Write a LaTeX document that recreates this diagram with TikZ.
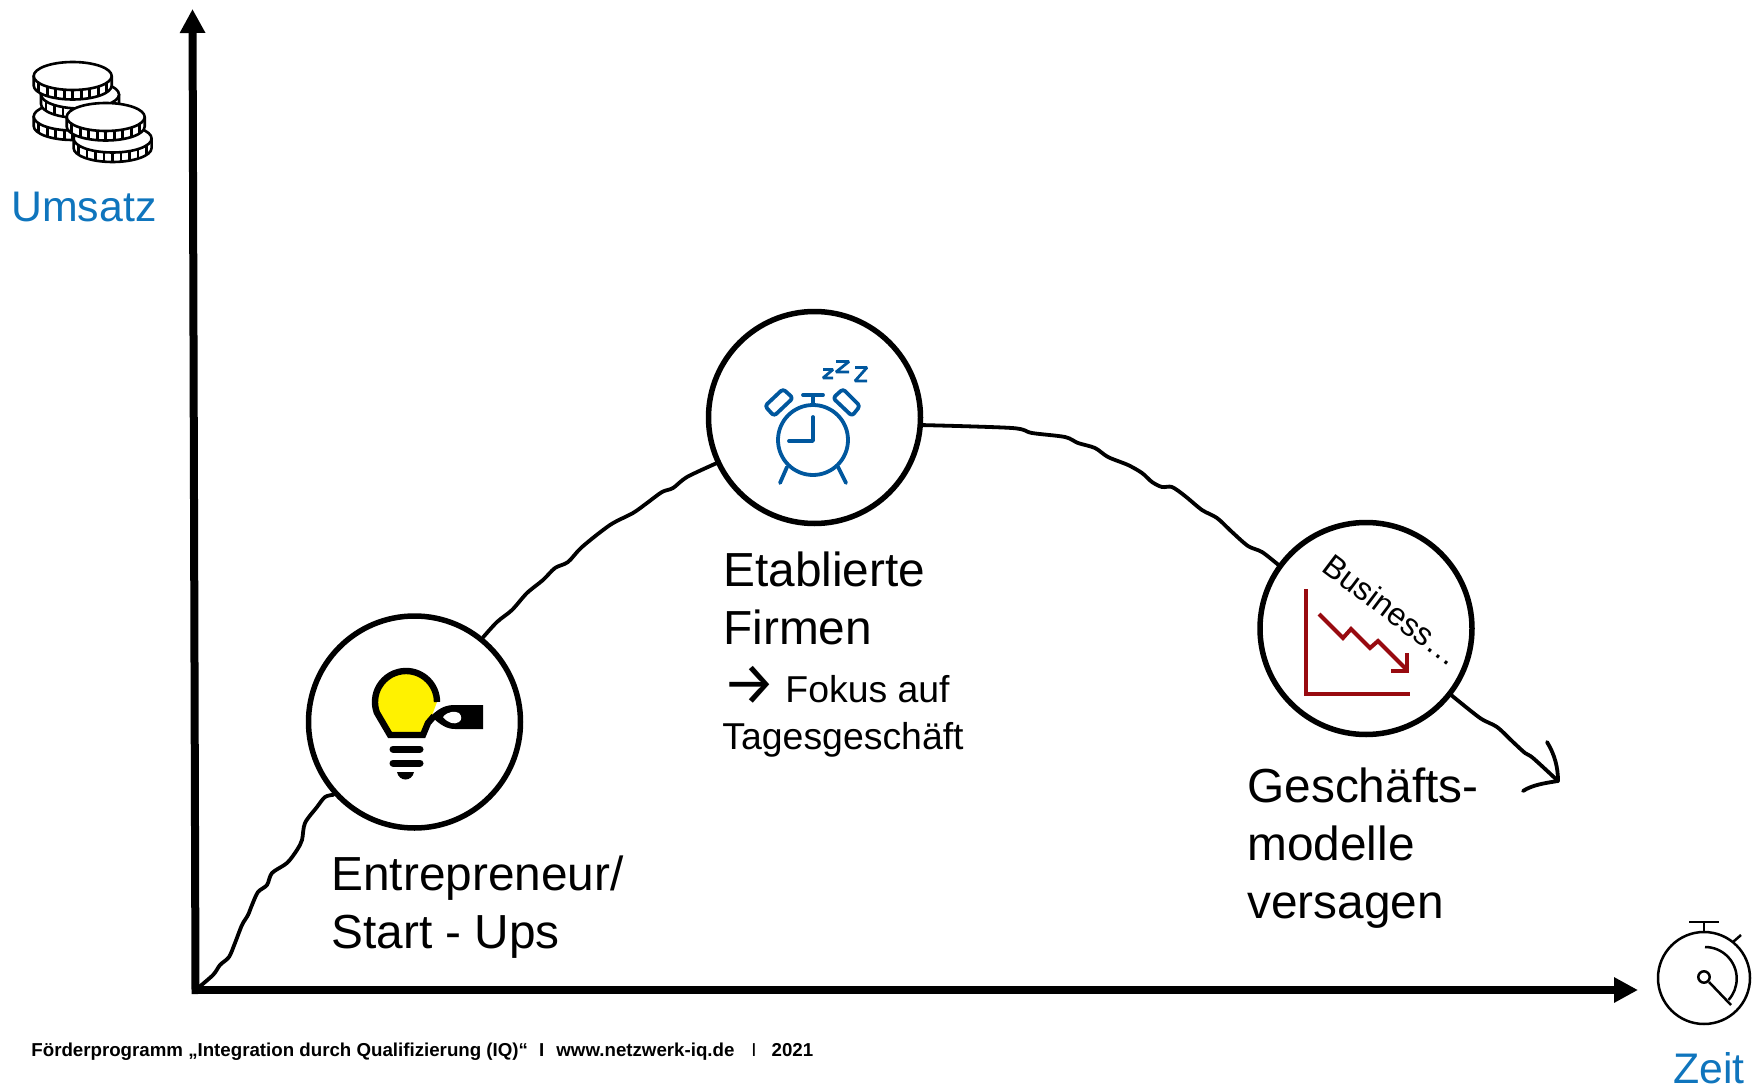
\documentclass[tikz,border=0pt]{standalone}
\usepackage{fontspec}
\setmainfont{Liberation Sans}
\newfontfamily\arrowfont{Fira Sans}
\usetikzlibrary{arrows.meta}
\definecolor{iqblue}{HTML}{0F75BD}
\definecolor{clockblue}{HTML}{00579E}
\definecolor{chartred}{HTML}{980A10}
\definecolor{bulbyellow}{HTML}{FFF200}
\tikzset{
  stage/.style={circle,draw,line width=2.75pt,minimum size=106pt,inner sep=0pt},
  axisline/.style={line width=4pt,line cap=rect,-{Triangle[length=12pt,width=12pt]}},
  hand/.style={line width=1.9pt,line join=round,line cap=round},
  bigtext/.style={anchor=north west,inner sep=0pt,align=left,font=\fontsize{23.9}{29}\selectfont},
  smalltext/.style={anchor=north west,inner sep=0pt,align=left,font=\fontsize{18.7}{23.5}\selectfont},
  axistext/.style={anchor=base west,inner sep=0pt,text=iqblue,font=\fontsize{21.4}{25}\selectfont},
  coinline/.style={line width=1.3pt,line join=round},
  clockline/.style={draw=clockblue,line width=1.9pt,line join=round,line cap=round},
  sleepline/.style={draw=clockblue,line width=1.4pt,line join=bevel,line cap=butt},
  chartline/.style={draw=chartred,line width=2pt,line join=miter},
  watchline/.style={line width=1.25pt,line cap=butt},
}
\newcommand{\coinicon}[2]{
  \filldraw[coinline,fill=white] (#1-39,#2) -- (#1-39,#2+9.5) arc[x radius=39,y radius=14,start angle=180,end angle=0] -- (#1+39,#2) -- cycle;
  \filldraw[coinline,fill=white] (#1,#2) ellipse[x radius=39,y radius=14];
  \foreach \dx in {-34,-25.5,...,34} {
    \draw[coinline] (#1+\dx,{#2+14*sqrt(1-(\dx/39)^2)}) -- ++(0,9.5);
  }
}
\begin{document}
\begin{tikzpicture}[x=0.5pt,y=-0.5pt]
\useasboundingbox (0,0) rectangle (1752,1086);

% axis
\coordinate (origin) at (195.5,990);
\coordinate (ytip) at (192.5,9);
\coordinate (xtip) at (1638,990);
\draw[axisline] (origin) -- (ytip);
\draw[axisline] (origin) -- (xtip);

% stages
\node[stage] (c1) at (414.5,722) {};
\node[stage] (c2) at (814.5,417.5) {};
\node[stage] (c3) at (1366,628.5) {};

% curve
\draw[hand] plot[smooth,tension=0.5] coordinates {(origin) (213,975) (220,965) (229,957) (235,943) (242,925) (248,915) (252,905) (258,892) (267,885) (272,873) (287,863) (297,850) (302,840) (305,823) (317,807) (325,797) (c1.222)};
\draw[hand] plot[smooth,tension=0.5] coordinates {(c1.51) (497,622) (512,610) (527,593) (543,580) (555,568) (568,562) (582,547) (610,525) (633,513) (647,503) (662,492) (673,488) (687,477) (c2.205)};
\draw[hand] plot[smooth,tension=0.5] coordinates {(c2.-4) (1012,428) (1032,433) (1065,437) (1078,443) (1095,448) (1108,457) (1128,465) (1142,473) (1152,482) (1162,487) (1172,487) (1185,496) (1202,510) (1217,518) (1232,532) (1248,546) (1262,552) (c3.144)};
\coordinate (curvetip) at (1558,781);
\draw[hand] plot[smooth,tension=0.5] coordinates {(c3.-38) (1480,718) (1497,727) (1513,742) (1525,753) (1533,758) (curvetip)};
\draw[hand] (1547,742) .. controls (1555,755) and (1558,768) .. (curvetip);
\draw[hand] (1523,791) .. controls (1532,785) and (1545,783) .. (curvetip);

% coins
\coinicon{72.7}{116.5}
\coinicon{80}{94.5}
\coinicon{72.7}{76}
\coinicon{112.6}{138.5}
\coinicon{105.7}{117}

% bulb
\fill[bulbyellow] (437,702) arc[radius=31,start angle=0,end angle=-200] -- (390,735) -- (423,735) -- (431,718) -- cycle;
\draw[line width=3.2pt,line join=miter] (437,702) arc[radius=31,start angle=0,end angle=-200] -- (390,735) -- (423,735) -- (428,723) -- (434,716);
\fill (431,716) .. controls (440,707) and (447,705) .. (455,705) -- (483,705) -- (483,729) -- (455,729) .. controls (447,729) and (440,725) .. (431,716);
\fill[white] (443,717) .. controls (448,711) and (455,711) .. (459,713) .. controls (462,716) and (462,720) .. (459,722) .. controls (454,725) and (448,723) .. (443,717);
\draw[line width=3.5pt,line cap=round] (393,749) -- (420,749);
\draw[line width=3.5pt,line cap=round] (393,763) -- (420,763);
\fill (397,772) -- (414,772) .. controls (412,782) and (399,782) .. (397,772);

% alarm clock
\draw[clockline] (813,440) circle[radius=35];
\draw[clockline] (813,395) -- (813,405);
\draw[clockline] (803,395) -- (823,395);
\draw[clockline] (813,417) -- (813,441) -- (789,441);
\draw[clockline] (787,467) -- (780,483);
\draw[clockline] (838,467) -- (846,483);
\draw[clockline,rounded corners=1.5pt] (783,389) -- (793,398) -- (774,416) -- (765,406) -- cycle;
\draw[clockline,rounded corners=1.5pt] (843,389) -- (833,398) -- (852,416) -- (860,406) -- cycle;
\draw[sleepline] (823,369.5) -- (833,369.5) -- (823,378) -- (833,378);
\draw[sleepline] (836,361.5) -- (849,361.5) -- (836,372) -- (849,372);
\draw[sleepline] (855,367.5) -- (867,367.5) -- (855,381) -- (867,381);

% chart
\draw[chartline] (1306,589) -- (1306,694) -- (1410,694);
\draw[chartline] (1319,614) -- (1343,638) -- (1351,629) -- (1370,648) -- (1378,641) -- (1407,670);
\draw[chartline] (1407,653) -- (1407,671) -- (1391,671);
\node[inner sep=0pt,rotate=-37,font=\fontsize{16}{19}\selectfont] (business) at (1392,610) {Business…};

% stopwatch
\draw[watchline] (1704,978) circle[radius=46];
\draw[watchline] (1704,922) -- (1704,932);
\draw[watchline] (1689,922) -- (1719,922);
\draw[watchline] (1733,942) -- (1741,935);
\draw[watchline] (1704,977) circle[radius=5.7];
\draw[watchline] (1709,982) -- (1731,1005);
\draw[watchline] (1705,947) arc[radius=31.7,start angle=-90,end angle=42];

% texts
\node[axistext] (umsatz) at (11,221) {Umsatz};
\node[axistext] (zeit) at (1673,1083.5) {Zeit};
\node[bigtext] (startups) at (331,855) {Entrepreneur/\\Start - Ups};
\node[bigtext] (firmen) at (723,551) {Etablierte\\Firmen};
\node[smalltext] (fokus) at (722,666) {\makebox[31.5pt][l]{\raisebox{-1.2pt}{\arrowfont\fontsize{30}{23.5}\selectfont →}}Fokus auf\\Tagesgeschäft};
\node[bigtext] (modelle) at (1247,767) {Geschäfts-\\modelle\\versagen};
\node[anchor=base west,inner sep=0pt,font=\fontsize{9.35}{11}\selectfont\bfseries] (footer) at (31,1056) {Förderprogramm „Integration durch Qualifizierung (IQ)“\hspace{5.6pt}I\hspace{6pt}www.netzwerk-iq.de\hspace{8.5pt}{\mdseries I}\hspace{7.5pt}2021};
\end{tikzpicture}
\end{document}
